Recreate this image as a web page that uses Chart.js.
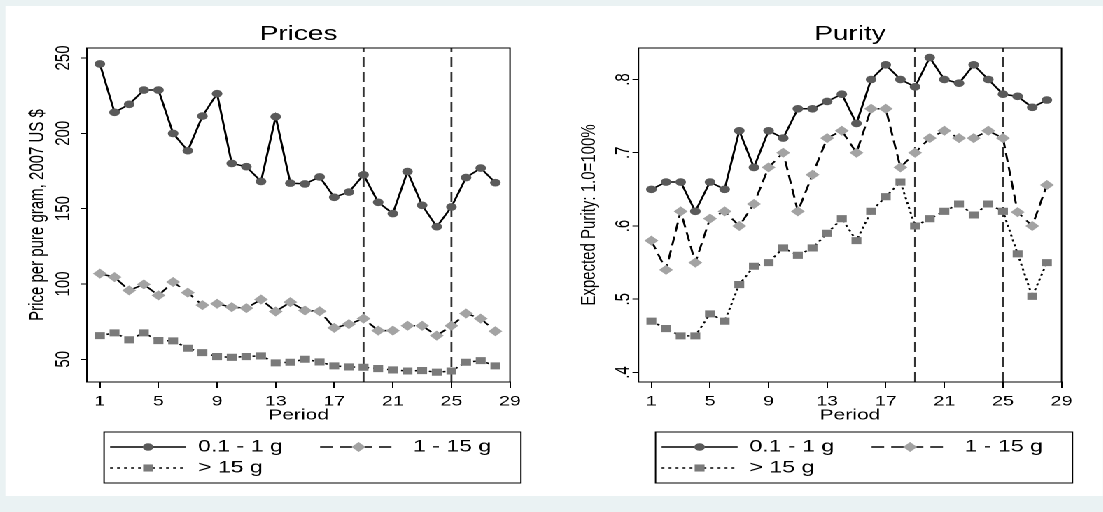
<!DOCTYPE html>
<html>
<head>
<meta charset="utf-8">
<script src="https://cdn.jsdelivr.net/npm/chart.js@4/dist/chart.umd.min.js"></script>
<style>
  html, body { margin: 0; padding: 0; background: #eaf2f3; overflow: hidden; }
  /* the whole graph is drawn narrow and stretched sideways, like the exported original */
  #wrap { position: absolute; left: 0; top: 0; width: 788px; height: 512px;
          transform: scaleX(1.4); transform-origin: 0 0; }
  #panel { position: absolute; left: 4.3px; top: 6px; width: 783.7px; height: 490px; background: #fff; }
  canvas { position: absolute; top: 0; }
  #c1 { left: 0; }
  #c2 { left: 394px; }
</style>
</head>
<body>
<div id="wrap">
  <div id="panel"></div>
  <canvas id="c1" width="394" height="512"></canvas>
  <canvas id="c2" width="394" height="512"></canvas>
</div>
<script>
const periods = [1, 2, 3, 4, 5, 6, 7, 8, 9, 10, 11, 12, 13, 14, 15, 16, 17, 18, 19, 20, 21, 22, 23, 24, 25, 26, 27, 28];
const xTicks = [1, 5, 9, 13, 17, 21, 25, 29];
const refLines = [19, 25];
const seriesNames = ['0.1 - 1 g', '1 - 15 g', '> 15 g'];

// Prices (2007 US $ per pure gram)
const priceSmall = [246, 213.9, 219.2, 228.7, 228.7, 199.9, 188.4, 211.4, 226.3, 180, 177.8, 168, 211, 166.9, 166.4, 171, 157.5, 161, 172.4, 154.2, 146.7, 174.6, 152.2, 138, 151.1, 170.6, 176.9, 167.2];
const priceMid = [106.8, 104.5, 95.7, 99.7, 92.4, 101.3, 94.2, 85.9, 86.8, 84.6, 83.9, 89.7, 81.7, 87.9, 82.4, 81.9, 70.8, 73.3, 77, 69, 69, 72.2, 72.2, 65.7, 72.2, 80.4, 77, 68.6];
const priceLarge = [65.7, 67.5, 62.9, 67.5, 62.4, 62.2, 57.3, 54.4, 51.8, 51.3, 51.8, 52.2, 47.6, 48, 50, 48.2, 45.6, 44.9, 44.7, 43.8, 42.9, 42.2, 42.5, 41.4, 42.2, 48, 49.1, 45.6];
const priceTicks = [50, 100, 150, 200, 250];

// Purity (1.0 = 100%)
const puritySmall = [0.65, 0.66, 0.66, 0.62, 0.66, 0.65, 0.73, 0.68, 0.73, 0.72, 0.76, 0.76, 0.77, 0.78, 0.74, 0.80, 0.82, 0.80, 0.79, 0.83, 0.80, 0.795, 0.82, 0.80, 0.78, 0.777, 0.762, 0.772];
const purityMid = [0.58, 0.54, 0.62, 0.55, 0.61, 0.62, 0.60, 0.63, 0.68, 0.70, 0.62, 0.67, 0.72, 0.73, 0.70, 0.76, 0.76, 0.68, 0.70, 0.72, 0.73, 0.72, 0.72, 0.73, 0.72, 0.619, 0.60, 0.656];
const purityLarge = [0.47, 0.46, 0.45, 0.45, 0.48, 0.47, 0.52, 0.545, 0.55, 0.57, 0.56, 0.57, 0.59, 0.61, 0.58, 0.62, 0.64, 0.66, 0.60, 0.61, 0.62, 0.63, 0.615, 0.63, 0.62, 0.562, 0.504, 0.55];
const purityTicks = [0.4, 0.5, 0.6, 0.7, 0.8];

Chart.defaults.font.family = '"Liberation Sans", Arial, Helvetica, sans-serif';
Chart.defaults.color = '#000';

const styles = [
  { color: '#5a5a5a', pointStyle: 'circle', radius: 3.8, dash: [] },
  { color: '#a3a3a3', pointStyle: 'rectRot', radius: 5, dash: [9, 5] },
  { color: '#7a7a7a', pointStyle: 'rect', radius: 5, dash: [2, 3] }
];

// box round the plot region
const frame = {
  id: 'frame',
  afterDraw(chart) {
    const a = chart.chartArea, ctx = chart.ctx;
    ctx.save();
    ctx.strokeStyle = '#000';
    ctx.lineWidth = 1;
    ctx.strokeRect(a.left, a.top, a.right - a.left, a.bottom - a.top);
    ctx.restore();
  }
};

// stata style legend: line with marker in the middle, in a box under the plot
const boxLegend = {
  id: 'boxLegend',
  afterDraw(chart) {
    const ctx = chart.ctx;
    const slots = [
      { x1: 78.6, x2: 132.9, tx: 141.4, y: 447 },
      { x1: 228.6, x2: 283.6, tx: 295, y: 447 },
      { x1: 78.6, x2: 132.9, tx: 141.4, y: 468 }
    ];
    ctx.save();
    ctx.strokeStyle = '#000';
    ctx.lineWidth = 1;
    ctx.strokeRect(74.3, 432, 297.8, 51);
    chart.data.datasets.filter(d => !d.isRef).forEach((ds, i) => {
      const s = slots[i];
      ctx.beginPath();
      ctx.setLineDash(ds.borderDash || []);
      ctx.lineWidth = ds.borderWidth;
      ctx.strokeStyle = ds.borderColor;
      ctx.moveTo(s.x1, s.y);
      ctx.lineTo(s.x2, s.y);
      ctx.stroke();
      ctx.setLineDash([]);
      ctx.fillStyle = ds.pointBackgroundColor;
      Chart.helpers.drawPoint(ctx, { pointStyle: ds.pointStyle, radius: ds.pointRadius, rotation: 0, borderWidth: 0 }, (s.x1 + s.x2) / 2, s.y);
      ctx.fillStyle = '#000';
      ctx.font = '16.5px "Liberation Sans", Arial, sans-serif';
      ctx.textBaseline = 'middle';
      ctx.textAlign = 'left';
      ctx.fillText(ds.label, s.tx, s.y);
    });
    ctx.restore();
  }
};

function makeChart(id, title, yTitle, yTicks, yMin, yMax, fmt, values) {
  const datasets = values.map((vals, i) => ({
    label: seriesNames[i],
    data: vals.map((v, j) => ({ x: periods[j], y: v })),
    borderColor: '#000',
    borderWidth: 1.5,
    borderDash: styles[i].dash,
    pointStyle: styles[i].pointStyle,
    pointRadius: styles[i].radius,
    pointBackgroundColor: styles[i].color,
    pointBorderColor: styles[i].color,
    pointBorderWidth: 0,
    tension: 0
  }));
  refLines.forEach(r => datasets.push({
    isRef: true,
    data: [{ x: r, y: yMin }, { x: r, y: yMax }],
    borderColor: '#333',
    borderWidth: 1.4,
    borderDash: [10, 5],
    pointRadius: 0
  }));

  return new Chart(document.getElementById(id).getContext('2d'), {
    type: 'line',
    data: { datasets },
    options: {
      responsive: false,
      devicePixelRatio: 2,
      animation: false,
      events: [],
      layout: { padding: { left: 10, right: 29.7, top: 10, bottom: 80 } },
      plugins: {
        legend: { display: false },
        tooltip: { enabled: false },
        title: {
          display: true, text: title, fullSize: false, color: '#000',
          font: { size: 20, weight: 'normal' },
          padding: { top: 12.7, bottom: 1.3 }
        }
      },
      scales: {
        x: {
          type: 'linear', min: 0.12, max: 29,
          afterBuildTicks: s => { s.ticks = xTicks.map(v => ({ value: v })); },
          afterFit: s => { s.height = 50; },
          grid: { drawOnChartArea: false, drawTicks: true, tickLength: 6, color: '#000' },
          border: { display: true, color: '#000', width: 1 },
          ticks: { font: { size: 14 }, padding: 5, maxRotation: 0, autoSkip: false, color: '#000' },
          title: { display: true, text: 'Period', font: { size: 15 }, padding: { top: 0, bottom: 7.5 }, color: '#000' }
        },
        y: {
          type: 'linear', min: yMin, max: yMax,
          afterBuildTicks: s => { s.ticks = yTicks.map(v => ({ value: v })); },
          afterFit: s => { s.width = 52.1; },
          grid: { drawOnChartArea: false, drawTicks: true, tickLength: 4.3, color: '#000' },
          border: { display: true, color: '#000', width: 1 },
          ticks: { font: { size: 15 }, minRotation: 90, maxRotation: 90, crossAlign: 'center', padding: 0, color: '#000', callback: fmt },
          title: { display: true, text: yTitle, font: { size: 15 }, padding: { top: 8.1, bottom: 0 }, color: '#000' }
        }
      }
    },
    plugins: [frame, boxLegend]
  });
}

makeChart('c1', 'Prices', 'Price per pure gram, 2007 US $', priceTicks, 34.9, 256.6,
  v => String(v), [priceSmall, priceMid, priceLarge]);
makeChart('c2', 'Purity', 'Expected Purity: 1.0=100%', purityTicks, 0.387, 0.843,
  v => v.toFixed(1).replace(/^0/, ''), [puritySmall, purityMid, purityLarge]);
</script>
</body>
</html>
